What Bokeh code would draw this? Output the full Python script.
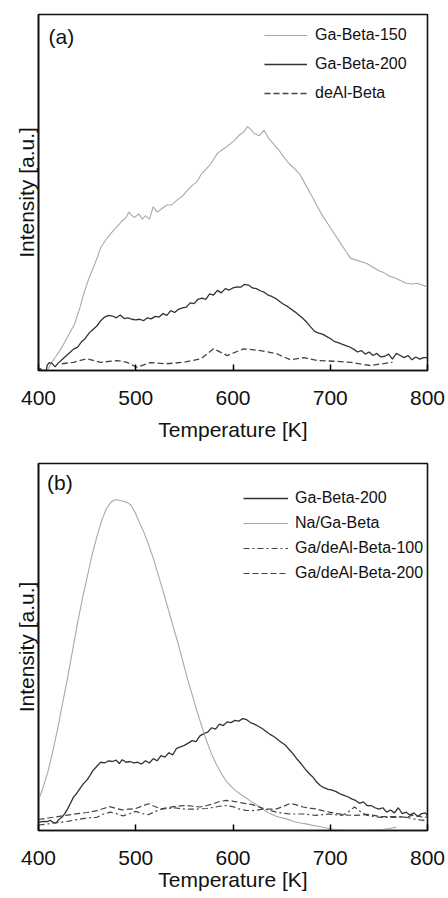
from bokeh.plotting import figure
from bokeh.layouts import column
from bokeh.models import (Range1d, FixedTicker, Legend, LegendItem, Label)
from bokeh.embed import file_html
from bokeh.resources import INLINE

# ---------------- Panel (a) data ----------------
a_t150 = [409, 413, 418, 424, 430, 437, 443, 447, 452, 458, 464, 470, 476, 481, 486, 490, 493, 496,
          499, 503, 507, 510, 514, 518, 522, 527, 532, 537, 543, 548, 553, 558, 563, 567, 572, 577,
          584, 589, 594, 601, 606, 611, 615, 619, 622, 627, 632, 636, 642, 647, 652, 658, 664, 669,
          675, 681, 687, 692, 698, 704, 710, 716, 721, 727, 733, 738, 744, 750, 755, 761, 767, 772,
          778, 784, 789, 795, 800]
a_ga150 = [0, 2, 4, 6.5, 9.5, 13, 18, 22, 26, 30, 34.5, 37, 39, 40.5, 42, 43, 44.5, 43.5,
           43, 44, 42.5, 43.5, 42.5, 46, 44.5, 45.5, 46.5, 46.5, 48, 49, 50.5, 52, 53, 55, 56.5, 58,
           61, 62, 63, 64.5, 66, 67, 68.5, 67.5, 66.5, 66, 67.5, 65.5, 63.5, 62, 60, 58, 56.5, 55,
           52, 49, 46, 43.5, 41, 38.5, 36, 33.5, 31.5, 31, 30.5, 30, 29, 28, 27.5, 26.5, 26, 25.3,
           24.5, 24.3, 24.5, 24, 23.4]

a_t200 = [400, 402, 404, 408, 409, 411, 414, 417, 420, 424, 428, 432, 436, 440, 444, 448, 452, 456,
          460, 464, 468, 472, 476, 480, 484, 488, 492, 496, 500, 504, 508, 512, 516, 520, 524, 528,
          532, 536, 540, 544, 548, 552, 556, 560, 564, 568, 572, 576, 580, 584, 588, 592, 596, 600,
          604, 608, 612, 616, 620, 624, 628, 632, 636, 640, 644, 648, 652, 656, 660, 664, 668, 672,
          676, 680, 684, 688, 692, 696, 700, 704, 708, 712, 716, 720, 724, 728, 732, 736, 740, 744,
          748, 752, 756, 760, 764, 768, 772, 776, 780, 784, 788, 792, 796, 800]
a_ga200 = [0.5, 0.5, 0, 0, 1.5, 2.2, 2.0, 1.0, 2.0, 3.0, 4.0, 5.0, 6.0, 6.5, 8.0, 9.0, 10.5, 11.5,
           12.5, 14.0, 15.0, 15.5, 15.3, 14.8, 15.6, 14.6, 14.8, 14.4, 14.2, 14.4, 14.0, 14.8, 14.5, 15.2, 15.0, 16.0,
           15.5, 16.8, 16.3, 17.2, 17.6, 17.8, 19.0, 18.8, 20.0, 20.3, 20.0, 21.5, 21.2, 22.5, 21.8, 23.0, 22.6, 23.2,
           23.5, 23.4, 24.2, 24.0, 23.2, 23.0, 22.4, 22.0, 21.2, 20.8, 20.2, 19.4, 18.6, 18.0, 17.2, 16.4, 15.5, 14.6,
           13.5, 12.2, 11.0, 10.5, 10.2, 9.6, 9.0, 8.2, 7.8, 7.4, 7.0, 6.6, 6.0, 5.2, 5.6, 4.6, 5.2, 4.2,
           4.8, 3.8, 4.0, 4.6, 3.2, 4.8, 4.2, 3.6, 4.2, 3.0, 3.8, 3.2, 3.6, 3.6]

a_tdeal = [424, 436, 450, 464, 481, 491, 501, 515, 532, 549, 567, 580, 594, 611, 628, 645, 659,
           673, 687, 704, 721, 741, 764]
a_deal = [1.9, 2.3, 3.3, 2.3, 2.8, 2.3, 0.9, 2.2, 1.9, 2.3, 3.3, 6.1, 4.2, 6.1, 5.6, 4.7, 3.0,
          3.6, 2.8, 2.6, 2.3, 1.4, 2.3]

# ---------------- Panel (b) data ----------------
b_tna = [400, 405, 410, 415, 420, 425, 430, 435, 440, 445, 450, 455, 460, 465, 470, 475, 479, 483,
         487, 491, 495, 499, 503, 508, 513, 518, 523, 528, 533, 538, 543, 548, 553, 558, 563, 568,
         573, 578, 583, 588, 593, 598, 603, 608, 613, 618, 623, 628, 633, 638, 643, 648, 653, 658,
         663, 668, 675, 682, 690, 698, 705, 715, 725, 735, 745, 755, 762, 768]
b_na = [8.2, 12, 16.3, 22, 28.1, 35, 41.7, 49, 56.3, 63, 69, 75, 80, 84.5, 87.8, 89.6, 90.2, 90,
        89.7, 89.4, 88.7, 86.8, 84.4, 81.5, 78, 74.2, 69.8, 65.3, 60.7, 56, 51.5, 46.5, 41.5, 37, 32.5, 28.3,
        24.3, 20.8, 18, 15.5, 13.5, 12, 10.8, 9.8, 9.0, 8.0, 7.2, 6.3, 5.4, 4.6, 4.0, 3.6, 3.3, 2.9,
        2.4, 2.1, 1.8, 1.4, 1.0, 0.6, 0.2, 0.0, 0.0, 0.0, 0.1, 0.3, 0.6, 0.9]

b_t200 = [400, 405, 409, 412, 415, 418, 421, 424, 427, 430, 433, 436, 439, 442, 446, 450, 453, 456,
          460, 464, 468, 472, 476, 480, 483, 486, 490, 494, 498, 502, 506, 510, 514, 518, 522, 526,
          530, 534, 538, 542, 546, 550, 554, 558, 562, 566, 570, 574, 578, 582, 586, 590, 594, 598,
          602, 606, 610, 614, 618, 622, 626, 630, 634, 638, 642, 646, 650, 654, 658, 662, 666, 670,
          674, 678, 682, 686, 690, 694, 698, 702, 706, 710, 714, 718, 722, 726, 730, 734, 738, 742,
          746, 750, 754, 758, 762, 766, 770, 774, 778, 782, 786, 790, 794, 798, 800]
b_ga200 = [2.2, 2.5, 2.4, 2.8, 2.2, 2.0, 3.0, 3.6, 4.6, 5.9, 7.5, 9.1, 10.0, 11.2, 12.7, 13.8, 15.0, 16.3,
           17.5, 18.6, 18.4, 19.0, 18.8, 19.2, 18.2, 19.3, 18.6, 18.8, 18.4, 18.6, 18.1, 19.0, 18.4, 19.6, 19.0, 20.4,
           20.0, 21.2, 20.6, 22.4, 22.8, 23.2, 23.8, 24.5, 24.2, 25.8, 26.4, 26.8, 28.0, 27.6, 29.0, 28.6, 29.6, 29.4,
           30.0, 29.8, 30.5, 30.2, 29.4, 29.0, 28.4, 27.8, 27.0, 26.2, 25.6, 24.8, 24.0, 23.2, 22.0, 20.8, 19.4, 18.2,
           16.8, 15.6, 14.6, 13.2, 12.2, 11.6, 11.2, 11.0, 10.6, 10.0, 9.6, 9.2, 8.6, 8.2, 7.4, 7.8, 6.8, 6.8,
           6.2, 5.8, 6.2, 5.0, 5.6, 4.8, 6.2, 4.6, 5.0, 4.2, 4.8, 3.8, 4.6, 4.8, 4.0]

b_t100 = [400, 410, 420, 430, 440, 450, 460, 467, 474, 480, 487, 494, 500, 507, 513, 520, 526, 533,
          540, 547, 553, 560, 566, 573, 580, 586, 593, 600, 606, 613, 619, 626, 632, 639, 645, 652,
          659, 665, 672, 679, 685, 692, 699, 705, 712, 718, 725, 731, 738, 745, 752, 758, 765, 772,
          778, 785, 792, 798, 800]
b_deal100 = [1.5, 1.8, 2.2, 2.5, 3.0, 3.4, 3.6, 4.5, 5.0, 4.6, 4.0, 4.6, 5.2, 4.6, 4.3, 5.2, 5.8, 6.0,
             6.2, 5.9, 5.8, 5.8, 5.9, 6.0, 6.3, 6.6, 6.8, 6.5, 5.9, 5.5, 5.4, 5.6, 5.9, 5.4, 5.0, 4.7,
             4.5, 4.5, 4.5, 4.3, 4.1, 4.3, 4.5, 4.3, 4.1, 5.0, 6.4, 5.2, 4.1, 3.8, 3.6, 3.6, 3.6, 3.7,
             3.6, 3.2, 2.9, 2.7, 2.6]

b_tdeal200 = [400, 410, 420, 430, 440, 450, 460, 467, 473, 480, 486, 493, 500, 506, 513, 519, 526, 533,
              539, 546, 553, 559, 566, 573, 580, 586, 593, 599, 606, 612, 619, 626, 632, 639, 645, 652,
              659, 665, 672, 679, 685, 692, 699, 705, 712, 718, 725, 732, 738, 745, 752, 758, 765, 772,
              778, 785, 792, 800]
b_deal200 = [3.0, 3.4, 3.8, 4.2, 4.6, 4.9, 5.4, 6.0, 6.5, 6.0, 5.6, 5.8, 6.0, 6.6, 7.3, 6.6, 5.9, 6.2,
             6.5, 6.7, 6.8, 6.6, 6.4, 6.8, 7.3, 7.9, 8.2, 8.0, 7.7, 7.4, 7.1, 6.5, 5.9, 5.8, 5.9, 6.6,
             7.4, 7.0, 6.4, 6.1, 5.9, 5.4, 5.0, 4.7, 4.4, 4.2, 4.1, 4.2, 4.4, 4.1, 3.8, 3.8, 3.8, 3.7,
             3.6, 4.2, 3.8, 3.6]

x_ticks = [400, 500, 600, 700, 800]
FONT = "Liberation Sans"
LIGHT = "#a9a9a9"
DARK = "#333333"


def make_fig(width, height, mb_left, mb_right, mb_top, mb_bottom, lab_standoff, title_standoff):
    p = figure(width=width, height=height, output_backend="svg", toolbar_location=None,
               x_range=Range1d(400, 800), y_range=Range1d(0, 100),
               min_border_left=mb_left, min_border_right=mb_right,
               min_border_top=mb_top, min_border_bottom=mb_bottom)
    p.grid.visible = False
    p.outline_line_color = "#111111"
    p.outline_line_width = 1.6
    p.background_fill_color = "white"
    p.border_fill_color = "white"
    xa = p.xaxis[0]
    xa.ticker = FixedTicker(ticks=x_ticks)
    xa.major_tick_in = 6
    xa.major_tick_out = 0
    xa.major_tick_line_width = 1.5
    xa.minor_tick_line_color = None
    xa.axis_line_width = 1.6
    xa.axis_line_color = "#111111"
    xa.major_label_text_font = FONT
    xa.major_label_text_font_size = "21px"
    xa.major_label_text_color = "#111111"
    xa.major_label_standoff = lab_standoff
    xa.axis_label = "Temperature [K]"
    xa.axis_label_text_font = FONT
    xa.axis_label_text_font_size = "21px"
    xa.axis_label_text_font_style = "normal"
    xa.axis_label_text_color = "#111111"
    xa.axis_label_standoff = title_standoff
    ya = p.yaxis[0]
    ya.ticker = FixedTicker(ticks=[])
    ya.major_tick_in = 0
    ya.major_tick_out = 0
    ya.minor_tick_line_color = None
    ya.major_label_standoff = 0
    ya.axis_line_width = 1.6
    ya.axis_line_color = "#111111"
    ya.axis_label = "Intensity [a.u.]"
    ya.axis_label_text_font = FONT
    ya.axis_label_text_font_size = "21px"
    ya.axis_label_text_font_style = "normal"
    ya.axis_label_text_color = "#111111"
    ya.axis_label_standoff = 1
    return p


def style_legend(leg, glyph_w, spacing, standoff):
    leg.label_text_font = FONT
    leg.label_text_font_size = "16px"
    leg.label_text_color = "#111111"
    leg.glyph_width = glyph_w
    leg.glyph_height = 20
    leg.label_height = 20
    leg.label_standoff = standoff
    leg.spacing = spacing
    leg.padding = 0
    leg.margin = 0
    leg.border_line_color = None
    leg.background_fill_alpha = 0


# ---------------- Panel (a) ----------------
pa = make_fig(448, 450, 38, 21, 14, 80, 20, 10)
ra1 = pa.line(a_t150, a_ga150, line_color=LIGHT, line_width=1.1)
ra2 = pa.line(a_t200, a_ga200, line_color=DARK, line_width=1.3)
ra3 = pa.line(a_tdeal, a_deal, line_color="#444444", line_width=1.3, line_dash="6 3")
leg_a = Legend(items=[LegendItem(label="Ga-Beta-150", renderers=[ra1]),
                      LegendItem(label="Ga-Beta-200", renderers=[ra2]),
                      LegendItem(label="deAl-Beta", renderers=[ra3])],
               location=(226, 267))
style_legend(leg_a, 43, 9, 8)
pa.add_layout(leg_a)
pa.add_layout(Label(x=410.3, y=93.8, text="(a)", text_font=FONT, text_font_size="21px",
                    text_baseline="middle", text_color="#111111"))

# ---------------- Panel (b) ----------------
pb = make_fig(448, 448, 33, 13, 13, 68, 20, 0)
rb1 = pb.line(b_t200, b_ga200, line_color=DARK, line_width=1.3)
rb2 = pb.line(b_tna, b_na, line_color=LIGHT, line_width=1.1)
rb3 = pb.line(b_t100, b_deal100, line_color="#444444", line_width=1.2, line_dash="6 3 2 3")
rb4 = pb.line(b_tdeal200, b_deal200, line_color="#444444", line_width=1.2, line_dash="6 3")
leg_b = Legend(items=[LegendItem(label="Ga-Beta-200", renderers=[rb1]),
                      LegendItem(label="Na/Ga-Beta", renderers=[rb2]),
                      LegendItem(label="Ga/deAl-Beta-100", renderers=[rb3]),
                      LegendItem(label="Ga/deAl-Beta-200", renderers=[rb4])],
               location=(205, 247))
style_legend(leg_b, 45, 5, 7)
pb.add_layout(leg_b)
pb.add_layout(Label(x=408.7, y=94.9, text="(b)", text_font=FONT, text_font_size="21px",
                    text_baseline="middle", text_color="#111111"))

layout = column(pa, pb, spacing=0)
open("out.html", "w").write(file_html(layout, INLINE))
